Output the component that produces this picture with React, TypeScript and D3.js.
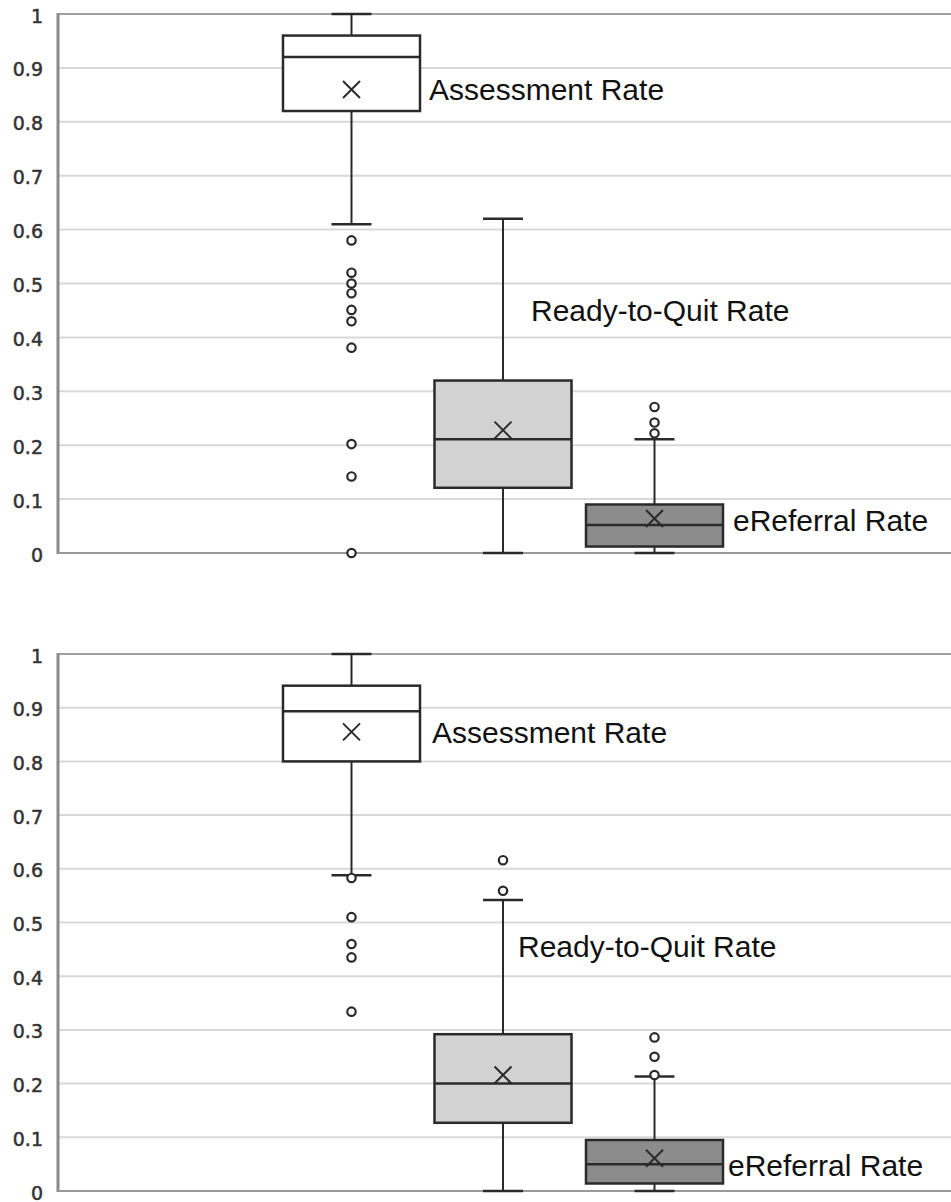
import React from "react";
import * as d3 from "d3";

const seriesNames = ["Assessment Rate", "Ready-to-Quit Rate", "eReferral Rate"];
const seriesFills = ["#ffffff", "#d2d2d2", "#8c8c8c"];
const yTicks = [0, 0.1, 0.2, 0.3, 0.4, 0.5, 0.6, 0.7, 0.8, 0.9, 1];
const yTickLabels = ["0", "0.1", "0.2", "0.3", "0.4", "0.5", "0.6", "0.7", "0.8", "0.9", "1"];

// Panel 1 (top)
const p1Min = [0.61, 0.0, 0.0];
const p1Q1 = [0.82, 0.121, 0.012];
const p1Median = [0.92, 0.211, 0.052];
const p1Q3 = [0.96, 0.32, 0.09];
const p1Max = [1.0, 0.62, 0.211];
const p1Mean = [0.86, 0.228, 0.064];
const p1Outliers = [
  [0.58, 0.52, 0.5, 0.482, 0.451, 0.43, 0.381, 0.202, 0.142, 0.0],
  [],
  [0.271, 0.242, 0.222],
];
const p1LabelValue = [0.86, 0.449, 0.061];

// Panel 2 (bottom)
const p2Min = [0.588, 0.0, 0.0];
const p2Q1 = [0.8, 0.127, 0.014];
const p2Median = [0.8935, 0.2, 0.05];
const p2Q3 = [0.941, 0.292, 0.095];
const p2Max = [1.0, 0.542, 0.213];
const p2Mean = [0.855, 0.216, 0.061];
const p2Outliers = [
  [0.583, 0.51, 0.46, 0.435, 0.334],
  [0.616, 0.559],
  [0.286, 0.25, 0.216],
];
const p2LabelValue = [0.853, 0.456, 0.047];

type PanelData = {
  min: number[]; q1: number[]; median: number[]; q3: number[]; max: number[];
  mean: number[]; outliers: number[][]; labelValue: number[];
};

const panels: { data: PanelData; top: number; bottom: number; labelDx: number[] }[] = [
  {
    data: { min: p1Min, q1: p1Q1, median: p1Median, q3: p1Q3, max: p1Max, mean: p1Mean, outliers: p1Outliers, labelValue: p1LabelValue },
    top: 14, bottom: 553, labelDx: [9, 28, 10],
  },
  {
    data: { min: p2Min, q1: p2Q1, median: p2Median, q3: p2Q3, max: p2Max, mean: p2Mean, outliers: p2Outliers, labelValue: p2LabelValue },
    top: 654, bottom: 1191, labelDx: [12, 15, 5],
  },
];

const W = 951;
const H = 1202;
const left = 58;
const right = 948;

function Panel({ data, top, bottom, labelDx }: { data: PanelData; top: number; bottom: number; labelDx: number[] }) {
  const y = d3.scaleLinear().domain([0, 1]).range([bottom, top]);
  const x = d3.scaleBand<string>().domain(seriesNames).range([left, right]).paddingInner(0.0957).paddingOuter(1.485).align(0.5);
  const bw = x.bandwidth();
  const capW = 40;
  const stroke = "#2a2a2a";
  return (
    <g>
      {yTicks.map((t, i) => (
        <line key={"g" + i} x1={left} x2={W} y1={y(t)} y2={y(t)} stroke={t === 1 ? "#a0a0a0" : "#d9d9d9"} strokeWidth={2} />
      ))}
      {yTicks.map((t, i) => (
        <text key={"t" + i} x={43} y={y(t) + 3} textAnchor="end" dominantBaseline="middle"
          fontFamily="'DejaVu Sans', sans-serif" fontSize={19} fill="#333" stroke="#333" strokeWidth={0.5}>{yTickLabels[i]}</text>
      ))}
      <line x1={left} x2={left} y1={top - 1} y2={bottom + 1} stroke="#8a8a8a" strokeWidth={3} />
      <line x1={left} x2={W} y1={bottom} y2={bottom} stroke="#9a9a9a" strokeWidth={2} />
      {seriesNames.map((s, i) => {
        const x0 = x(s)!;
        const cx = x0 + bw / 2;
        const m = 8.5;
        return (
          <g key={s}>
            <line x1={cx} x2={cx} y1={y(data.max[i])} y2={y(data.q3[i])} stroke={stroke} strokeWidth={2} />
            <line x1={cx} x2={cx} y1={y(data.q1[i])} y2={y(data.min[i])} stroke={stroke} strokeWidth={2} />
            <line x1={cx - capW / 2} x2={cx + capW / 2} y1={y(data.max[i])} y2={y(data.max[i])} stroke={stroke} strokeWidth={2.5} />
            <line x1={cx - capW / 2} x2={cx + capW / 2} y1={y(data.min[i])} y2={y(data.min[i])} stroke={stroke} strokeWidth={2.5} />
            <rect x={x0} y={y(data.q3[i])} width={bw} height={y(data.q1[i]) - y(data.q3[i])} fill={seriesFills[i]} stroke={stroke} strokeWidth={2.5} />
            <line x1={x0} x2={x0 + bw} y1={y(data.median[i])} y2={y(data.median[i])} stroke={stroke} strokeWidth={2.5} />
            <path d={`M${cx - m},${y(data.mean[i]) - m}L${cx + m},${y(data.mean[i]) + m}M${cx - m},${y(data.mean[i]) + m}L${cx + m},${y(data.mean[i]) - m}`}
              stroke={stroke} strokeWidth={2} fill="none" />
            {data.outliers[i].map((v, k) => (
              <circle key={k} cx={cx} cy={y(v)} r={4.2} fill="#fff" stroke={stroke} strokeWidth={2.2} />
            ))}
            <text x={(i === 1 ? cx : x0 + bw) + labelDx[i]} y={y(data.labelValue[i])} dominantBaseline="central"
              fontFamily="'Liberation Sans', Arial, sans-serif" fontSize={30} fill="#111">{s}</text>
          </g>
        );
      })}
    </g>
  );
}

export default function App() {
  return (
    <svg width={W} height={H} viewBox={`0 0 ${W} ${H}`} style={{ position: "absolute", left: 0, top: 0, background: "#fff" }}>
      <rect width={W} height={H} fill="#fff" />
      {panels.map((p, i) => (
        <Panel key={i} data={p.data} top={p.top} bottom={p.bottom} labelDx={p.labelDx} />
      ))}
    </svg>
  );
}
